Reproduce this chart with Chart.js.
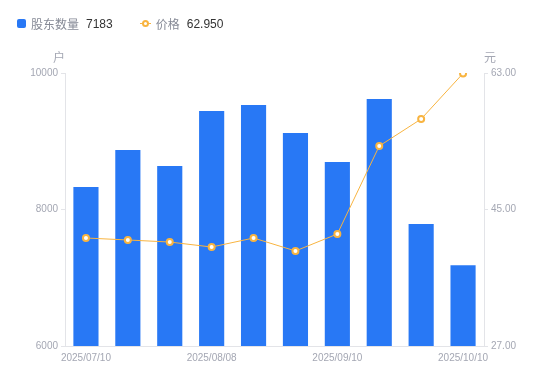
<!DOCTYPE html>
<html><head><meta charset="utf-8">
<script src="https://cdn.jsdelivr.net/npm/chart.js@4"></script>
<style>
html,body{margin:0;padding:0;background:#fff;}
#wrap{position:relative;width:550px;height:381px;}
#legend{position:absolute;left:17px;top:15px;font-family:"Liberation Sans","Noto Sans CJK SC",sans-serif;font-size:12px;display:flex;align-items:center;white-space:nowrap;}
.it{display:flex;align-items:center;margin-right:27px;}
.sq{width:9px;height:9px;background:#2878f5;border-radius:2px;margin-right:5px;}
.ln{position:relative;width:11px;height:9px;margin-right:5px;}
.ln:before{content:"";position:absolute;left:0;right:0;top:4px;height:1px;background:#f8b440;}
.ln:after{content:"";position:absolute;left:2px;top:1px;width:3px;height:3px;border:2px solid #f8b440;border-radius:50%;background:#fff;}
.lb{color:#868a96;margin-right:7px;}
.vl{color:#333;}
</style></head>
<body><div id="wrap"><canvas id="c" width="550" height="381"></canvas>
<div id="legend">
<div class="it"><div class="sq"></div><span class="lb">股东数量</span><span class="vl">7183</span></div>
<div class="it"><div class="ln"></div><span class="lb">价格</span><span class="vl">62.950</span></div>
</div></div>
<script>
const categories = ["2025/07/10","2025/07/18","2025/07/31","2025/08/08","2025/08/20","2025/08/29","2025/09/10","2025/09/19","2025/09/30","2025/10/10"];
const holders = [8330, 8872, 8637, 9443, 9531, 9121, 8696, 9619, 7788, 7183];
const prices = [41.24, 40.98, 40.71, 40.05, 41.24, 39.53, 41.77, 53.37, 56.93, 62.95];
const leftTicks = [6000, 8000, 10000];
const rightTicks = [27, 45, 63];
const shownLabelIdx = [0, 3, 6, 9];

const gray = '#a4a7b3';
const font = {family: '"Liberation Sans",Arial,sans-serif', size: 10};

const unitPlugin = {
  id: 'units',
  afterDraw(chart) {
    const ctx = chart.ctx;
    ctx.save();
    ctx.fillStyle = gray;
    ctx.font = '12px "Noto Sans CJK SC",sans-serif';
    ctx.textBaseline = 'middle';
    ctx.textAlign = 'right';
    ctx.fillText('户', chart.scales.y.right, 57);
    ctx.textAlign = 'left';
    ctx.fillText('元', chart.scales.y1.left, 57);
    ctx.restore();
  }
};

new Chart(document.getElementById('c'), {
  data: {
    labels: categories,
    datasets: [
      {type: 'line', data: prices, yAxisID: 'y1', borderColor: '#f8b440', borderWidth: 1,
       pointRadius: 3, pointBorderWidth: 2, pointBackgroundColor: '#fff', pointBorderColor: '#f8b440',
       tension: 0, order: 0},
      {type: 'bar', data: holders, yAxisID: 'y', backgroundColor: '#2878f5',
       barPercentage: 0.6, categoryPercentage: 1.0, order: 1}
    ]
  },
  options: {
    responsive: false, animation: false,
    layout: {padding: {top: 73, left: 0, right: 0, bottom: 0}},
    plugins: {legend: {display: false}, tooltip: {enabled: false}},
    scales: {
      x: {
        offset: true,
        grid: {display: false, drawTicks: false},
        border: {display: true, color: '#e3e4e8'},
        ticks: {color: gray, font, maxRotation: 0, autoSkip: false, padding: 6,
          callback: function(v, i) { return shownLabelIdx.includes(i) ? categories[i] : ''; }},
        afterFit(s) { s.height = 35; }
      },
      y: {
        position: 'left', min: 6000, max: 10000,
        afterBuildTicks(s) { s.ticks = leftTicks.map(v => ({value: v})); },
        grid: {drawOnChartArea: false, drawTicks: true, tickLength: 4, color: '#e3e4e8'},
        border: {display: true, color: '#e3e4e8'},
        ticks: {color: gray, font, padding: 3, callback: v => String(v)},
        afterFit(s) { s.width = 65; }
      },
      y1: {
        position: 'right', min: 27, max: 63,
        afterBuildTicks(s) { s.ticks = rightTicks.map(v => ({value: v})); },
        grid: {drawOnChartArea: false, drawTicks: true, tickLength: 4, color: '#e3e4e8'},
        border: {display: true, color: '#e3e4e8'},
        ticks: {color: gray, font, padding: 3, callback: v => Number(v).toFixed(2)},
        afterFit(s) { s.width = 66; }
      }
    }
  },
  plugins: [unitPlugin]
});
</script></body></html>
